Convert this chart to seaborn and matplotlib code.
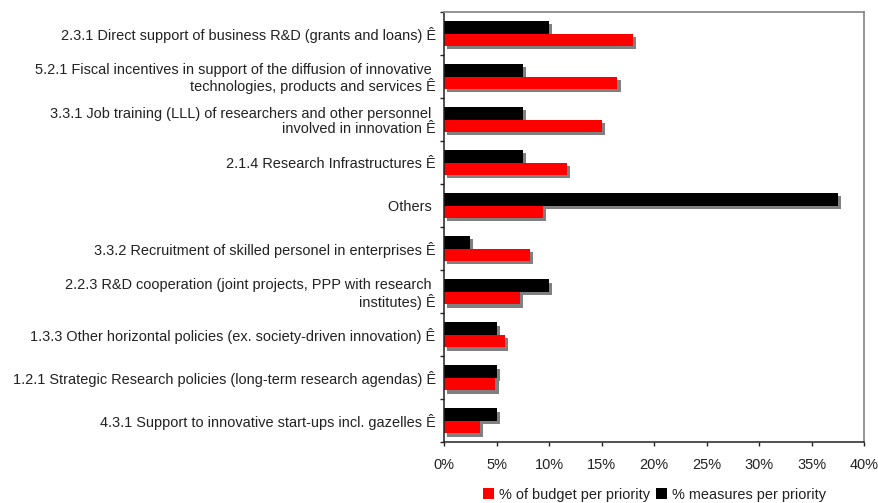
import numpy as np
import pandas as pd
import matplotlib
matplotlib.use("Agg")
import matplotlib.pyplot as plt
import matplotlib.patheffects as pe
from matplotlib.patches import Patch
from matplotlib.ticker import FuncFormatter
import seaborn as sns

# Policy priorities, top to bottom
categories = [
    "2.3.1 Direct support of business R&D (grants and loans) Ê",
    "5.2.1 Fiscal incentives in support of the diffusion of innovative \ntechnologies, products and services Ê",
    "3.3.1 Job training (LLL) of researchers and other personnel \ninvolved in innovation Ê",
    "2.1.4 Research Infrastructures Ê",
    "Others ",
    "3.3.2 Recruitment of skilled personel in enterprises Ê",
    "2.2.3 R&D cooperation (joint projects, PPP with research \ninstitutes) Ê",
    "1.3.3 Other horizontal policies (ex. society-driven innovation) Ê",
    "1.2.1 Strategic Research policies (long-term research agendas) Ê",
    "4.3.1 Support to innovative start-ups incl. gazelles Ê",
]
measures_pct = [10.0, 7.5, 7.5, 7.5, 37.5, 2.5, 10.0, 5.0, 5.0, 5.0]
budget_pct = [18.0, 16.5, 15.0, 11.7, 9.4, 8.2, 7.2, 5.8, 4.9, 3.4]
series_names = ["% measures per priority", "% of budget per priority"]
series_colors = ["#000000", "#ff0000"]
x_ticks = [0, 5, 10, 15, 20, 25, 30, 35, 40]

df = pd.DataFrame({
    "category": categories * 2,
    "value": measures_pct + budget_pct,
    "series": [series_names[0]] * len(categories) + [series_names[1]] * len(categories),
})

sns.set_theme(style="white")
plt.rcParams["font.family"] = ["Liberation Sans", "DejaVu Sans"]
text_color = "#222222"
fs = 10.45

fig = plt.figure(figsize=(8.79, 5.03), dpi=100)
ax = fig.add_axes([0.5051, 0.1203, 0.4784, 0.8558])

sns.barplot(
    data=df, x="value", y="category", hue="series",
    hue_order=series_names, order=categories,
    palette=dict(zip(series_names, series_colors)),
    orient="h", width=0.58, gap=0, saturation=1, linewidth=0,
    legend=False, ax=ax,
)

# Drop shadow behind every bar
shadow = [pe.SimplePatchShadow(offset=(2.3, -2.3), shadow_rgbFace="#808080", alpha=1.0), pe.Normal()]
for patch in ax.patches:
    patch.set_path_effects(shadow)

ax.set_xlim(0, 40)
ax.set_ylim(len(categories) - 0.5, -0.5)
ax.set_xlabel("")
ax.set_ylabel("")

ax.set_xticks(x_ticks)
ax.xaxis.set_major_formatter(FuncFormatter(lambda v, _: f"{v:.0f}%"))
ax.tick_params(axis="x", which="major", direction="out", length=3, width=1,
               color="#222222", pad=8, labelsize=fs, labelcolor=text_color, bottom=True)

ax.set_yticks(range(len(categories)))
ax.set_yticklabels(categories, fontsize=fs, color=text_color, linespacing=1.1)
ax.tick_params(axis="y", which="major", length=0, pad=6)
ax.set_yticks(np.arange(-0.5, len(categories) + 0.5, 1), minor=True)
ax.tick_params(axis="y", which="minor", direction="out", length=3, width=1,
               color="#222222", left=True)

for side in ("top", "right"):
    ax.spines[side].set_color("#8c8c8c")
    ax.spines[side].set_linewidth(1.3)
for side in ("left", "bottom"):
    ax.spines[side].set_color("#222222")
    ax.spines[side].set_linewidth(1.1)

handles = [Patch(facecolor=series_colors[1], edgecolor="none"),
           Patch(facecolor=series_colors[0], edgecolor="none")]
labels = [series_names[1], series_names[0]]
ax.legend(handles, labels, loc="center", bbox_to_anchor=(0.5, -0.121), ncol=2,
          frameon=False, fontsize=fs, handlelength=0.8, handleheight=0.8,
          handletextpad=0.3, columnspacing=0.4, labelcolor=text_color)

fig.savefig("out.png", dpi=100)
